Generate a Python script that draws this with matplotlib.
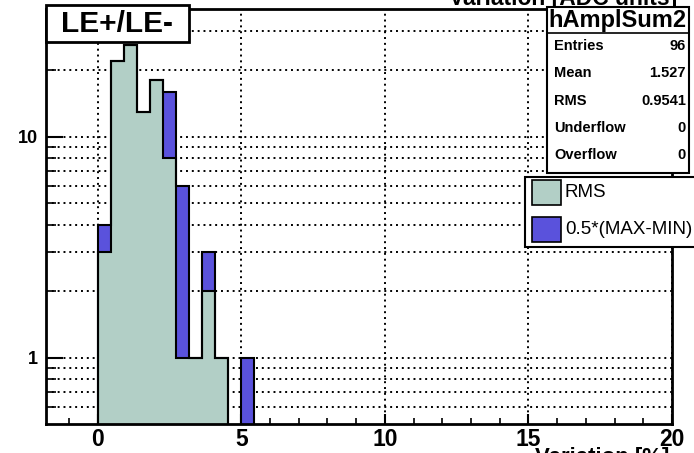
import numpy as np
import matplotlib
matplotlib.use("Agg")
import matplotlib.pyplot as plt
from matplotlib.patches import Rectangle

# ---------------- data ----------------
bin_width = 20.0 / 44.0
n_bins = 12
bin_edges = np.arange(n_bins + 1) * bin_width
rms_counts = [3, 22, 26, 13, 18, 8, 1, 1, 2, 1, 0, 0]
halfrange_counts = [4, 22, 26, 13, 18, 16, 6, 1, 3, 1, 0, 1]
series_labels = ["RMS", "0.5*(MAX-MIN)"]
series_colors = ["#b2cfc6", "#5a52dc"]
x_ticks = [0, 5, 10, 15, 20]
x_range = (-1.8, 20.0)
y_range = (0.5, 37.8)
y_major = [1, 10]
y_minor = [0.6, 0.7, 0.8, 0.9, 2, 3, 4, 5, 6, 7, 8, 9, 20, 30]
stats_title = "hAmplSum2"
stats_rows = [("Entries", "96"), ("Mean", "1.527"), ("RMS", "0.9541"),
              ("Underflow", "0"), ("Overflow", "0")]
title_text = "LE+/LE-"
x_title = "Variation [%]"
top_title = "Variation [ADC units]"

# ---------------- layout ----------------
W, H = 694, 453
FONT = "Liberation Sans"
plt.rcParams["font.family"] = [FONT, "DejaVu Sans"]

fig = plt.figure(figsize=(W / 100, H / 100), dpi=100)
fig.patch.set_facecolor("white")

def fx(px):
    return px / W

def fy(py):
    return 1 - py / H

ax_l, ax_r, ax_t, ax_b = 46, 672, 9.3, 424
ax = fig.add_axes([fx(ax_l), fy(ax_b), fx(ax_r - ax_l), (ax_b - ax_t) / H])
ax.set_yscale("log")
ax.set_xlim(*x_range)
ax.set_ylim(*y_range)
ax.set_axisbelow(True)

base = 0.3
for vals, col in [(halfrange_counts, series_colors[1]), (rms_counts, series_colors[0])]:
    v = np.asarray(vals, dtype=float)
    v = np.where(v > 0, v, base)
    ax.stairs(v, bin_edges, baseline=base, fill=True, facecolor=col,
              edgecolor="none", zorder=2)
    ax.stairs(v, bin_edges, baseline=base, fill=False, color="black",
              linewidth=1.5, zorder=3)

# grid
dot = (0, (1, 2.0))
for xv in x_ticks:
    ax.axvline(xv, color="black", linewidth=1.4, linestyle=dot, zorder=1)
for yv in y_major + y_minor:
    ax.axhline(yv, color="black", linewidth=1.4, linestyle=dot, zorder=1)

# ticks
ax.set_xticks(x_ticks)
ax.set_xticks(np.arange(-1, 21, 1), minor=True)
ax.set_yticks(y_major)
ax.set_yticks(y_minor, minor=True)
ax.set_yticklabels([str(v) for v in y_major])
ax.yaxis.set_minor_formatter(matplotlib.ticker.NullFormatter())
ax.tick_params(axis="x", which="major", length=7, width=1.5, direction="in",
               pad=3, labelsize=16.5)
ax.tick_params(axis="x", which="minor", length=4, width=1.2, direction="in")
ax.tick_params(axis="y", which="major", length=12, width=1.5, direction="in",
               pad=6, labelsize=13)
ax.tick_params(axis="y", which="minor", length=7, width=1.2, direction="in")
for lab in ax.get_xticklabels() + ax.get_yticklabels():
    lab.set_fontweight("bold")
for s in ax.spines.values():
    s.set_linewidth(2)
    s.set_zorder(5)

# title box
fig.patches.append(Rectangle((fx(46), fy(42)), fx(189 - 46), (42 - 5) / H,
                             transform=fig.transFigure, facecolor="white",
                             edgecolor="black", linewidth=2, zorder=10))
fig.text(fx(117), fy(23.5), title_text, ha="center", va="center",
         fontsize=21.5, fontweight="bold", zorder=11)

# stats box
sb_l, sb_r, sb_t, sb_b, sb_h = 546.7, 689, 7, 173, 33
fig.patches.append(Rectangle((fx(sb_l), fy(sb_b)), fx(sb_r - sb_l), (sb_b - sb_t) / H,
                             transform=fig.transFigure, facecolor="white",
                             edgecolor="black", linewidth=1.5, zorder=10))
fig.lines.append(plt.Line2D([fx(sb_l), fx(sb_r)], [fy(sb_h), fy(sb_h)],
                            transform=fig.transFigure, color="black",
                            linewidth=1.2, zorder=11))
fig.text(fx((sb_l + sb_r) / 2), fy(20), stats_title, ha="center", va="center",
         fontsize=17, fontweight="bold", zorder=11)
row_y = [46, 73, 101, 128, 155]
for (name, val), ry in zip(stats_rows, row_y):
    fig.text(fx(554), fy(ry), name, ha="left", va="center", fontsize=10.5,
             fontweight="bold", zorder=11)
    fig.text(fx(686), fy(ry), val, ha="right", va="center", fontsize=10.5,
             fontweight="bold", zorder=11)

# legend box
lg_l, lg_r, lg_t, lg_b = 525, 697, 177, 247
fig.patches.append(Rectangle((fx(lg_l), fy(lg_b)), fx(lg_r - lg_l), (lg_b - lg_t) / H,
                             transform=fig.transFigure, facecolor="white",
                             edgecolor="black", linewidth=1.5, zorder=10))
for i, (lab, col) in enumerate(zip(series_labels, series_colors)):
    top = 180 + i * 36.7
    fig.patches.append(Rectangle((fx(532), fy(top + 25)), fx(29), 25 / H,
                                 transform=fig.transFigure, facecolor=col,
                                 edgecolor="black", linewidth=1.2, zorder=11))
    fig.text(fx(565), fy(top + 12.5), lab, ha="left", va="center",
             fontsize=13.5, zorder=11)

# axis titles (cut off at the image edges, as in the original)
fig.text(fx(677), fy(5), top_title, ha="right", va="baseline",
         fontsize=16.5, fontweight="bold")
fig.text(fx(535), fy(447), x_title, ha="left", va="top",
         fontsize=16, fontweight="bold")

fig.savefig("out.png", dpi=100, facecolor="white")
